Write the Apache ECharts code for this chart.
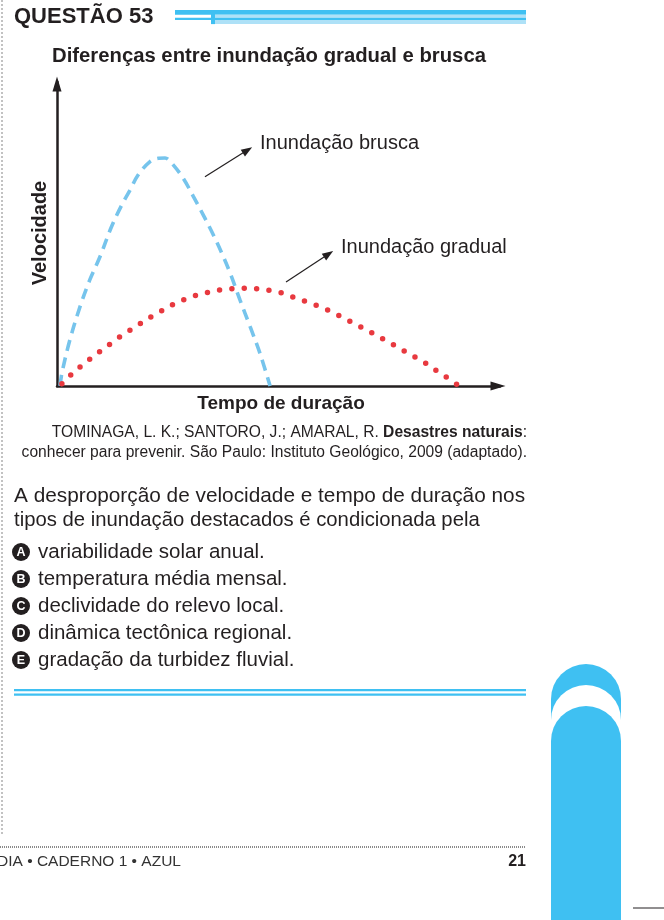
<!DOCTYPE html>
<html>
<head>
<meta charset="utf-8">
<script src="https://cdn.jsdelivr.net/npm/echarts@6/dist/echarts.min.js"></script>
<style>
html, body { margin: 0; padding: 0; background: #fff; }
#main { width: 664px; height: 920px; }
</style>
</head>
<body>
<div id="main"></div>
<script>
// tempo (0-100) e velocidade (0-100)
var tempoBrusca = [0.7, 1.1, 2.9, 5.2, 7.4, 9.7, 12.3, 14.6, 16.5, 18.3, 21.0, 22.9, 24.4, 25.9, 28.5, 30.8, 33.0, 35.3, 37.2, 39.1, 41.3, 43.6, 45.8, 48.1];
var velBrusca   = [0,   4.2, 15.1, 26.1, 34.9, 42.5, 52.4, 59.5, 64.5, 69.4, 73.8, 74.9, 75.0, 73.3, 68.3, 62.3, 56.3, 49.7, 43.7, 37.1, 28.3, 19.5, 10.8, 0];

var tempoGradual = [1.1, 3.5, 5.8, 8.1, 10.5, 12.9, 15.3, 17.8, 20.2, 22.9, 25.5, 28.1, 30.9, 33.8, 36.8, 39.7, 42.7, 45.4, 48.5, 51.5, 54.1, 56.9, 59.8, 62.4, 65.2, 67.7, 70.3, 72.9, 75.5, 78.0, 80.7, 83.2, 85.7, 88.1, 90.5];
var velGradual   = [0.7, 4.2, 6.9, 9.6, 12.2, 14.8, 17.3, 19.5, 21.9, 24.1, 26.3, 28.1, 29.6, 30.7, 31.6, 32.0, 32.2, 31.9, 31.3, 30.3, 28.8, 27.4, 25.8, 24.1, 22.0, 20.1, 18.1, 16.0, 13.9, 11.8, 9.6, 7.5, 5.0, 2.7, 0.3];

var letras = ['A', 'B', 'C', 'D', 'E'];
var opcoes = [
    'variabilidade solar anual.',
    'temperatura média mensal.',
    'declividade do relevo local.',
    'dinâmica tectônica regional.',
    'gradação da turbidez fluvial.'
];

var FONTE = '"Liberation Sans", Arial, sans-serif';
var TINTA = '#231f20';
var AZUL = '#3fc0f2';
var AZUL_CLARO = '#aee1f7';

function pares(xs, ys) {
    return xs.map(function (x, i) { return [x, ys[i]]; });
}

function texto(x, y, str, size, bold, extra) {
    var s = {
        x: x, y: y, text: str,
        fontSize: size, fontFamily: FONTE,
        fontWeight: bold ? 'bold' : 'normal',
        fill: TINTA, align: 'left', verticalAlign: 'middle'
    };
    for (var k in extra) s[k] = extra[k];
    return { type: 'text', silent: true, style: s };
}

var rotulo = texto(0, 0, 'Velocidade', 20, true, { align: 'center' });
rotulo.x = 40;
rotulo.y = 233;
rotulo.rotation = Math.PI / 2;

var graficos = [
    // borda tracejada à esquerda
    { type: 'line', shape: { x1: 2, y1: 0, x2: 2, y2: 835 }, style: { stroke: '#9a9a9a', lineWidth: 1.2, lineDash: [2, 2] } },
    // cabeçalho
    texto(14, 17, 'QUESTÃO 53', 22, true),
    { type: 'rect', shape: { x: 175, y: 10, width: 351, height: 4.8 }, style: { fill: AZUL } },
    { type: 'rect', shape: { x: 215, y: 14.8, width: 311, height: 3 }, style: { fill: AZUL_CLARO } },
    { type: 'rect', shape: { x: 175, y: 17.7, width: 351, height: 2.4 }, style: { fill: AZUL } },
    { type: 'rect', shape: { x: 215, y: 20.1, width: 311, height: 4 }, style: { fill: AZUL_CLARO } },
    { type: 'rect', shape: { x: 211, y: 10, width: 4, height: 14.1 }, style: { fill: AZUL } },
    // títulos do gráfico
    texto(52, 56, 'Diferenças entre inundação gradual e brusca', 20.3, true),
    rotulo,
    texto(281, 404, 'Tempo de duração', 19, true, { align: 'center' }),
    texto(260, 143, 'Inundação brusca', 20, false),
    texto(341, 247, 'Inundação gradual', 20, false),
    // fonte
    {
        type: 'text', silent: true,
        style: {
            x: 527, y: 433, align: 'right', verticalAlign: 'middle',
            text: '{r|TOMINAGA, L. K.; SANTORO, J.; AMARAL, R. }{b|Desastres naturais}{r|:}',
            rich: {
                r: { fontSize: 15.6, fontFamily: FONTE, fill: TINTA },
                b: { fontSize: 15.6, fontFamily: FONTE, fill: TINTA, fontWeight: 'bold' }
            }
        }
    },
    texto(527, 453, 'conhecer para prevenir. São Paulo: Instituto Geológico, 2009 (adaptado).', 15.6, false, { align: 'right' }),
    // enunciado
    texto(14, 496, 'A desproporção de velocidade e tempo de duração nos', 20.8, false),
    texto(14, 520, 'tipos de inundação destacados é condicionada pela', 20.3, false),
    // linhas azuis
    { type: 'rect', shape: { x: 14, y: 689, width: 512, height: 2.2 }, style: { fill: AZUL } },
    { type: 'rect', shape: { x: 14, y: 693.5, width: 512, height: 2.2 }, style: { fill: AZUL } },
    // aba lateral
    { type: 'rect', shape: { x: 551, y: 664, width: 70, height: 270, r: [35, 35, 0, 0] }, style: { fill: AZUL } },
    { type: 'rect', shape: { x: 551, y: 685, width: 70, height: 250, r: [35, 35, 0, 0] }, style: { fill: '#ffffff' } },
    { type: 'rect', shape: { x: 551, y: 706, width: 70, height: 230, r: [35, 35, 0, 0] }, style: { fill: AZUL } },
    { type: 'line', shape: { x1: 633, y1: 908, x2: 664, y2: 908 }, style: { stroke: TINTA, lineWidth: 1 } },
    // rodapé
    { type: 'line', shape: { x1: 0, y1: 847, x2: 526, y2: 847 }, style: { stroke: '#8a8a8a', lineWidth: 2, lineDash: [1, 1] } },
    texto(-3, 862, 'DIA • CADERNO 1 • AZUL', 15.5, false, { fill: '#333333' }),
    texto(526, 862, '21', 16, true, { align: 'right' })
];

letras.forEach(function (l, i) {
    var y = 552 + i * 27;
    graficos.push({ type: 'circle', silent: true, shape: { cx: 21, cy: y, r: 9 }, style: { fill: TINTA } });
    graficos.push(texto(21, y + 0.5, l, 12.5, true, { align: 'center', fill: '#ffffff' }));
    graficos.push(texto(38, y, opcoes[i], 20.5, false));
});

function eixo() {
    return {
        type: 'value', min: 0, max: 100,
        axisLine: {
            show: true, onZero: false,
            symbol: ['none', 'triangle'],
            symbolSize: [9, 15],
            symbolOffset: [0, -2],
            lineStyle: { color: TINTA, width: 2.5 }
        },
        axisTick: { show: false },
        axisLabel: { show: false },
        splitLine: { show: false }
    };
}

var seta = {
    silent: true,
    symbol: ['none', 'triangle'],
    symbolSize: [8, 11],
    label: { show: false },
    lineStyle: { color: TINTA, width: 1.2, type: 'solid' },
    animation: false
};

var chart = echarts.init(document.getElementById('main'));
chart.setOption({
    backgroundColor: '#ffffff',
    animation: false,
    grid: { left: 57, top: 82, width: 443, height: 304 },
    xAxis: eixo(),
    yAxis: eixo(),
    series: [
        {
            name: 'Inundação brusca',
            type: 'line',
            data: pares(tempoBrusca, velBrusca),
            smooth: 0.35,
            showSymbol: false,
            clip: false,
            lineStyle: { color: '#76c4ec', width: 3.6, type: [11, 7] },
            markLine: Object.assign({ data: [[{ coord: [33.4, 68.8] }, { coord: [43.0, 77.6] }]] }, seta)
        },
        {
            name: 'Inundação gradual',
            type: 'line',
            data: pares(tempoGradual, velGradual),
            smooth: 0.35,
            showSymbol: false,
            clip: false,
            lineStyle: { color: '#e8393f', width: 5.5, type: [0, 12.4], cap: 'round' },
            markLine: Object.assign({ data: [[{ coord: [51.7, 34.2] }, { coord: [61.3, 43.4] }]] }, seta)
        }
    ],
    graphic: graficos
});
</script>
</body>
</html>
